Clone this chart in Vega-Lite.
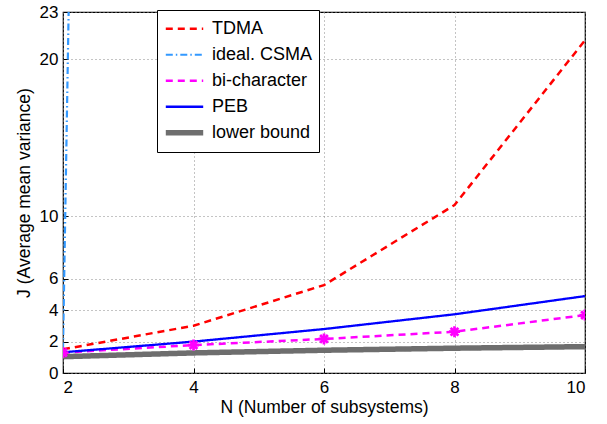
{
  "$schema": "https://vega.github.io/schema/vega-lite/v6.json",
  "width": 522,
  "height": 361,
  "autosize": {"type": "none"},
  "padding": {"left": 63, "top": 12, "right": 22, "bottom": 51},
  "background": "white",
  "config": {
    "view": {"stroke": "black", "strokeWidth": 1.2},
    "font": "Liberation Sans",
    "axis": {
      "labelFont": "Liberation Sans",
      "titleFont": "Liberation Sans",
      "labelFontSize": 17,
      "titleFontSize": 17.5,
      "titleFontWeight": "normal",
      "labelColor": "black",
      "titleColor": "black",
      "domain": false,
      "ticks": true,
      "tickSize": -5,
      "tickColor": "black",
      "tickWidth": 1,
      "gridColor": "#888888",
      "gridDash": [1, 3],
      "gridWidth": 1
    }
  },
  "datasets": {
    "lines": [
      {"N": 2, "J": 1.51, "series": "TDMA"},
      {"N": 4, "J": 3.01, "series": "TDMA"},
      {"N": 6, "J": 5.6, "series": "TDMA"},
      {"N": 8, "J": 10.7, "series": "TDMA"},
      {"N": 10, "J": 21.2, "series": "TDMA"},
      {"N": 2, "J": 1.5, "series": "ideal. CSMA"},
      {"N": 4, "J": 500, "series": "ideal. CSMA"},
      {"N": 2, "J": 1.3, "series": "bi-character"},
      {"N": 4, "J": 1.78, "series": "bi-character"},
      {"N": 6, "J": 2.17, "series": "bi-character"},
      {"N": 8, "J": 2.63, "series": "bi-character"},
      {"N": 10, "J": 3.69, "series": "bi-character"},
      {"N": 2, "J": 1.32, "series": "PEB"},
      {"N": 4, "J": 2.0, "series": "PEB"},
      {"N": 6, "J": 2.8, "series": "PEB"},
      {"N": 8, "J": 3.74, "series": "PEB"},
      {"N": 10, "J": 4.9, "series": "PEB"},
      {"N": 2, "J": 1.04, "series": "lower bound"},
      {"N": 4, "J": 1.28, "series": "lower bound"},
      {"N": 6, "J": 1.45, "series": "lower bound"},
      {"N": 8, "J": 1.58, "series": "lower bound"},
      {"N": 10, "J": 1.68, "series": "lower bound"}
    ]
  },
  "data": {"name": "lines"},
  "layer": [
    {
      "mark": {"type": "line", "clip": true},
      "encoding": {
        "x": {
          "field": "N", "type": "quantitative",
          "scale": {"domain": [2, 10], "nice": false, "zero": false},
          "axis": {"values": [2, 4, 6, 8, 10], "format": "d", "title": "N (Number of subsystems)", "labelPadding": 11, "titlePadding": 3, "grid": true}
        },
        "y": {
          "field": "J", "type": "quantitative",
          "scale": {"domain": [0, 23], "nice": false},
          "axis": {"values": [0, 2, 4, 6, 10, 20, 23], "format": "d", "title": "J (Average mean variance)", "labelPadding": 10, "titlePadding": 6, "grid": true}
        },
        "color": {
          "field": "series", "type": "nominal",
          "scale": {"domain": ["TDMA", "ideal. CSMA", "bi-character", "PEB", "lower bound"], "range": ["#ff0000", "#3399ff", "#ff00ff", "#0000ff", "#6e6e6e"]},
          "legend": {
            "title": null,
            "orient": "none",
            "legendX": 94,
            "legendY": -2,
            "symbolType": "stroke",
            "symbolSize": 1400,
            "clipHeight": 25.5,
            "labelFont": "Liberation Sans",
            "labelFontSize": 18,
            "labelColor": "black",
            "labelOffset": 6,
            "fillColor": "white",
            "strokeColor": "black",
            "padding": 6,
            "rowPadding": 0,
            "zindex": 1
          }
        },
        "strokeDash": {
          "field": "series", "type": "nominal",
          "scale": {"domain": ["TDMA", "ideal. CSMA", "bi-character", "PEB", "lower bound"], "range": [[7, 5], [7, 3, 1.5, 3], [7, 5], [1, 0], [1, 0]]},
          "legend": null
        },
        "strokeWidth": {
          "field": "series", "type": "nominal",
          "scale": {"type": "ordinal", "domain": ["TDMA", "ideal. CSMA", "bi-character", "PEB", "lower bound"], "range": [2.5, 2.2, 2.5, 2.3, 5.5]},
          "legend": null
        },
        "order": {"field": "N"}
      }
    },
    {
      "transform": [{"filter": "datum.series === 'bi-character'"}],
      "mark": {"type": "point", "shape": "M-1,-0.25L-0.25,-0.25L-0.25,-1L0.25,-1L0.25,-0.25L1,-0.25L1,0.25L0.25,0.25L0.25,1L-0.25,1L-0.25,0.25L-1,0.25Z", "filled": true, "color": "#ff00ff", "size": 120, "opacity": 1, "clip": true},
      "encoding": {
        "x": {"field": "N", "type": "quantitative"},
        "y": {"field": "J", "type": "quantitative"}
      }
    },
    {
      "transform": [{"filter": "datum.series === 'bi-character'"}],
      "mark": {"type": "point", "shape": "M-1,-0.25L-0.25,-0.25L-0.25,-1L0.25,-1L0.25,-0.25L1,-0.25L1,0.25L0.25,0.25L0.25,1L-0.25,1L-0.25,0.25L-1,0.25Z", "angle": 45, "filled": true, "color": "#ff00ff", "size": 120, "opacity": 1, "clip": true},
      "encoding": {
        "x": {"field": "N", "type": "quantitative"},
        "y": {"field": "J", "type": "quantitative"}
      }
    }
  ]
}
